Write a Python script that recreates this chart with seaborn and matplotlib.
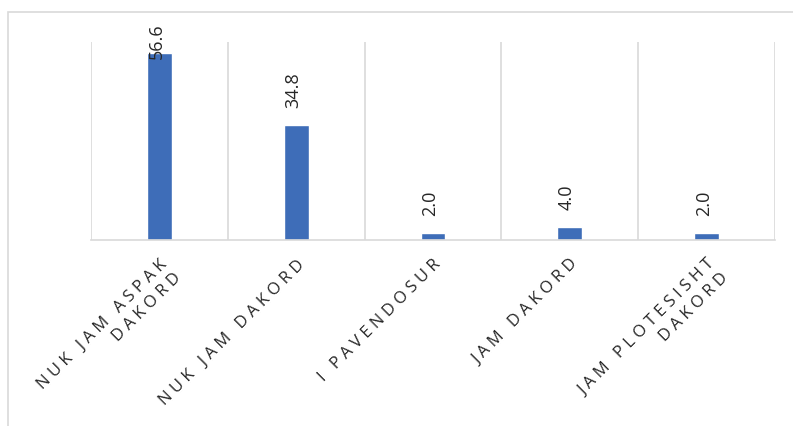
import matplotlib
matplotlib.use("Agg")
import matplotlib.pyplot as plt
import seaborn as sns
import pandas as pd
from matplotlib.patches import Rectangle

categories = ["NUK JAM ASPAK\nDAKORD", "NUK JAM DAKORD", "I PAVENDOSUR", "JAM DAKORD", "JAM PLOTESISHT\nDAKORD"]
values = [56.6, 34.8, 2.0, 4.0, 2.0]
value_labels = ["56.6", "34.8", "2.0", "4.0", "2.0"]

sns.set_theme(style="white")
plt.rcParams['font.family'] = ['Open Sans', 'DejaVu Sans']

fig = plt.figure(figsize=(7.93, 4.26), dpi=100)
ax = fig.add_axes([91/793, 1-240/426, (775-91)/793, (240-42)/426])

df = pd.DataFrame({"cat": categories, "val": values})
sns.barplot(data=df, x="cat", y="val", color="#3E6DB8", width=0.18, ax=ax, saturation=1)

ax.set_xlim(-0.5, len(categories) - 0.5)
ax.set_ylim(0, 60)
ax.set_yticks([])
ax.set_xlabel("")
ax.set_ylabel("")
for s in ["left", "right", "top"]:
    ax.spines[s].set_visible(False)
ax.spines["bottom"].set_color("#d9d9d9")
ax.spines["bottom"].set_linewidth(1.2)
for b in [i - 0.5 for i in range(len(categories) + 1)]:
    ax.axvline(b, color="#d9d9d9", lw=1.2, zorder=0)

for i, (v, lab) in enumerate(zip(values, value_labels)):
    y = min(v + 5.2, 55.0)
    ax.text(i - 0.02, y, lab, rotation=90, ha="center", va="bottom", fontsize=13, color="#262626")


def letter_spaced(s):
    # widen tracking like the original chart's axis labels
    return "\n".join("\u2009\u200a".join(line) for line in s.split("\n"))


ax.tick_params(axis="x", length=0, pad=12)
ax.set_xticks(range(len(categories)))
ax.set_xticklabels([letter_spaced(c) for c in categories], rotation=45, ha="right", va="top",
                   rotation_mode="anchor", fontsize=12, color="#262626",
                   multialignment="right", linespacing=1.3)

# chart area border
fig.patches.append(Rectangle((8/793, -0.1), 1.2, 1 - 12/426 + 0.1, transform=fig.transFigure,
                             fill=False, edgecolor="#d9d9d9", lw=1.2))

fig.savefig("out.png", dpi=100)
